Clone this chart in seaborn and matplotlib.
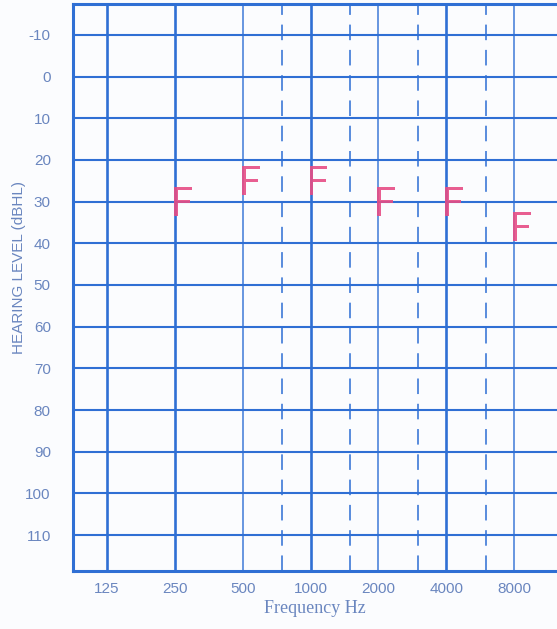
import numpy as np
import pandas as pd
import seaborn as sns
from matplotlib import pyplot as plt
from matplotlib.transforms import ScaledTranslation

# audiogram data (sound field thresholds "F")
freqs = [250, 500, 1000, 2000, 4000, 8000]
levels = [30, 25, 25, 30, 30, 36]

octave_freqs = [125, 250, 500, 1000, 2000, 4000, 8000]
octave_labels = ['125', '250', '500', '1000', '2000', '4000', '8000']
thick_freqs = [125, 250, 1000, 4000]
thin_freqs = [500, 2000, 8000]
mid_freqs = [750, 1500, 3000, 6000]
db_ticks = list(range(-10, 120, 10))

grid_blue = '#2f6fd4'
text_blue = '#6a86bf'
mark_red = '#e64d85'

sns.set_style('white')
plt.rcParams['font.family'] = ['Liberation Sans', 'DejaVu Sans']
plt.rcParams['mathtext.fontset'] = 'custom'
plt.rcParams['mathtext.sf'] = 'Roboto'

fig = plt.figure(figsize=(5.57, 6.29), dpi=100)
fig.patch.set_facecolor('#fbfcfe')
ax = fig.add_axes([73 / 557, 1 - 571 / 629, 1 - 73 / 557, (571 - 4) / 629])
ax.set_facecolor('#fbfcfe')

ax.set_xscale('log', base=2)
ax.set_xlim(88.3, 12400)
ax.set_ylim(118.6, -17.4)

for f in thick_freqs:
    ax.axvline(f, color=grid_blue, lw=1.9, zorder=1)
for f in thin_freqs:
    ax.axvline(f, color=grid_blue, lw=1.2, alpha=0.85, zorder=1)
for f in mid_freqs:
    ax.axvline(f, color=grid_blue, lw=1.4, dashes=(8, 5), alpha=0.8, zorder=1)
for d in db_ticks:
    ax.axhline(d, color=grid_blue, lw=1.5, zorder=1)

df = pd.DataFrame({'freq': freqs, 'level': levels})
sns.scatterplot(data=df, x='freq', y='level', marker=r'$\mathsf{F}$', s=430,
                color=mark_red, edgecolor='none', linewidth=0, alpha=0.9, ax=ax, zorder=3)
# the handwritten F sits with its stem on the frequency line
coll = ax.collections[-1]
coll.set_offset_transform(ax.transData + ScaledTranslation(0.08, 0, fig.dpi_scale_trans))

ax.set_xticks(octave_freqs)
ax.set_xticklabels(octave_labels)
ax.xaxis.set_minor_locator(plt.NullLocator())
ax.set_yticks(db_ticks)
ax.set_yticklabels([str(d) for d in db_ticks])
ax.tick_params(axis='x', length=0, pad=8, labelsize=11, labelcolor=text_blue)
ax.tick_params(axis='y', length=0, pad=16, labelsize=11, labelcolor=text_blue)

ax.set_xlabel('Frequency Hz', fontsize=13, color=text_blue, family='Liberation Serif', labelpad=3)
ax.set_ylabel('')
fig.text(19 / 557, 1 - 268 / 629, 'HEARING LEVEL (dBHL)', rotation=90, ha='center', va='center',
         fontsize=11, color=text_blue)

for side in ['left', 'top', 'bottom']:
    ax.spines[side].set_color(grid_blue)
    ax.spines[side].set_linewidth(2.2)
ax.spines['right'].set_visible(False)

fig.savefig('out.png', dpi=100, facecolor=fig.get_facecolor())
